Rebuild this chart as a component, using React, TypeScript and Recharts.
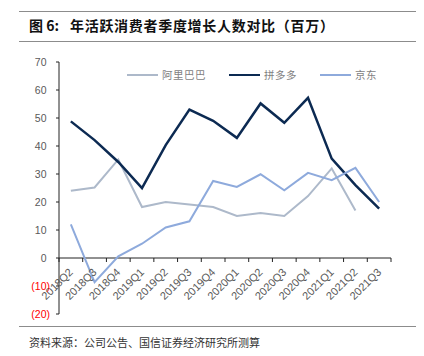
import React from 'react';
import { LineChart, Line, XAxis, YAxis, ReferenceLine } from 'recharts';

const quarters = ['2018Q2', '2018Q3', '2018Q4', '2019Q1', '2019Q2', '2019Q3', '2019Q4', '2020Q1', '2020Q2', '2020Q3', '2020Q4', '2021Q1', '2021Q2', '2021Q3'];
const alibaba: (number | null)[] = [24.0, 25.2, 35.2, 18.2, 20.0, 19.1, 18.2, 15.0, 16.1, 15.0, 22.1, 32.0, 17.0, null];
const pdd = [48.8, 42.1, 34.3, 25.0, 40.3, 53.0, 49.0, 42.9, 55.2, 48.3, 57.2, 35.5, 26.0, 17.6];
const jd = [12.0, -8.6, 0.6, 5.1, 10.9, 13.1, 27.5, 25.4, 29.9, 24.2, 30.4, 27.8, 32.2, 20.0];
const yTicks = [-20, -10, 0, 10, 20, 30, 40, 50, 60, 70];
const seriesNames = ['阿里巴巴', '拼多多', '京东'];
const seriesKeys = ['ali', 'pdd', 'jd'];
const seriesColors = ['#ADB9CA', '#0C2A52', '#8EAADC'];
const seriesWidths = [2, 2.5, 2];

const titleLabel = '图 6:';
const titleText = '年活跃消费者季度增长人数对比（百万）';
const source = '资料来源：公司公告、国信证券经济研究所测算';

const data = quarters.map((q, i) => ({ q, ali: alibaba[i], pdd: pdd[i], jd: jd[i] }));

const W = 424;
const H = 356;
const M = { top: 62, right: 33, bottom: 41, left: 9 };
const Y_AXIS_W = 50;
const X_AXIS_H = 1;
const DOMAIN: [number, number] = [-20, 70];
const PLOT_H = H - M.top - M.bottom - X_AXIS_H;
const PLOT_W = W - M.left - M.right - Y_AXIS_W;
const BAND = PLOT_W / quarters.length;
const ZERO_FROM_BOTTOM = (PLOT_H * (0 - DOMAIN[0])) / (DOMAIN[1] - DOMAIN[0]);

const FONT = 'Liberation Sans, Arial, sans-serif';
const CJK = '"Noto Sans CJK SC", sans-serif';

const XTick = (props: any) => {
  const { x, y, payload, index } = props;
  const y0 = y - ZERO_FROM_BOTTOM;
  const tx = x;
  const ty = y0 + 12;
  return (
    <g>
      <line x1={x - BAND / 2} x2={x - BAND / 2} y1={y0} y2={y0 + 4} stroke="#222" strokeWidth={1} />
      {index === quarters.length - 1 && (
        <line x1={x + BAND / 2} x2={x + BAND / 2} y1={y0} y2={y0 + 4} stroke="#222" strokeWidth={1} />
      )}
      <text
        x={tx}
        y={ty}
        transform={`rotate(-45, ${tx}, ${ty})`}
        textAnchor="end"
        dominantBaseline="central"
        fontSize={11}
        fontFamily={FONT}
        fill="#595959"
      >
        {payload.value}
      </text>
    </g>
  );
};

const YTick = (props: any) => {
  const { x, y, payload } = props;
  const v = payload.value as number;
  const neg = v < 0;
  return (
    <text x={x} y={y} textAnchor="end" dominantBaseline="central" fontSize={10.5} fontFamily={FONT} fill={neg ? '#FF0000' : '#595959'}>
      {neg ? `(${Math.abs(v)})` : (
        <>
          {String(v)}
          <tspan fillOpacity={0}>)</tspan>
        </>
      )}
    </text>
  );
};

export default function App() {
  return (
    <div style={{ position: 'absolute', left: 0, top: 0, width: W, height: H, background: '#fff', overflow: 'hidden' }}>
      <div style={{ position: 'absolute', left: 19, top: 11, width: 397, height: 0, borderTop: '1px solid #8c8c8c' }} />
      <div
        style={{
          position: 'absolute',
          left: 29,
          top: 16,
          fontFamily: CJK,
          fontWeight: 700,
          fontSize: 14,
          lineHeight: '18px',
          color: '#111',
          whiteSpace: 'pre',
          display: 'flex',
          ['textSpacingTrim' as any]: 'space-all',
        }}
      >
        <span style={{ width: 41 }}>{titleLabel}</span>
        <span style={{ letterSpacing: 0.7, ['textSpacingTrim' as any]: 'space-all' }}>{titleText}</span>
      </div>
      <div style={{ position: 'absolute', left: 19, top: 41, width: 397, height: 0, borderTop: '1px solid #8c8c8c' }} />

      <LineChart width={W} height={H} data={data} margin={M} style={{ position: 'absolute', left: 0, top: 0 }}>
        <XAxis
          dataKey="q"
          height={X_AXIS_H}
          axisLine={false}
          tickLine={false}
          tickSize={0}
          tickMargin={0}
          interval={0}
          padding={{ left: BAND / 2, right: BAND / 2 }}
          tick={<XTick />}
        />
        <YAxis
          width={Y_AXIS_W}
          domain={DOMAIN}
          ticks={yTicks}
          interval={0}
          allowDataOverflow
          axisLine={{ stroke: '#222', strokeWidth: 1 }}
          tickLine={{ stroke: '#222', strokeWidth: 1 }}
          tickSize={3}
          tickMargin={6}
          tick={<YTick />}
        />
        <ReferenceLine y={0} stroke="#222" strokeWidth={1} ifOverflow="extendDomain" />
        {seriesKeys.map((k, i) => (
          <Line
            key={k}
            dataKey={k}
            name={seriesNames[i]}
            stroke={seriesColors[i]}
            strokeWidth={seriesWidths[i]}
            dot={false}
            activeDot={false}
            type="linear"
            isAnimationActive={false}
            connectNulls={false}
          />
        ))}
      </LineChart>

      <div style={{ position: 'absolute', left: 127, top: 67, display: 'flex', alignItems: 'center', fontFamily: CJK, fontSize: 10.5, color: '#7f7f7f' }}>
        {seriesNames.map((n, i) => (
          <div key={n} style={{ display: 'flex', alignItems: 'center', marginRight: 23 }}>
            <div style={{ width: 31, height: 0, borderTop: `${seriesWidths[i]}px solid ${seriesColors[i]}`, marginRight: 4 }} />
            <span style={{ letterSpacing: 0.5 }}>{n}</span>
          </div>
        ))}
      </div>

      <div style={{ position: 'absolute', left: 19, top: 326, width: 397, height: 0, borderTop: '1px solid #8c8c8c' }} />
      <div
        style={{
          position: 'absolute',
          left: 29,
          top: 335,
          fontFamily: CJK,
          fontSize: 11,
          lineHeight: '15px',
          color: '#333',
          whiteSpace: 'pre',
        }}
      >
        {source}
      </div>
    </div>
  );
}
